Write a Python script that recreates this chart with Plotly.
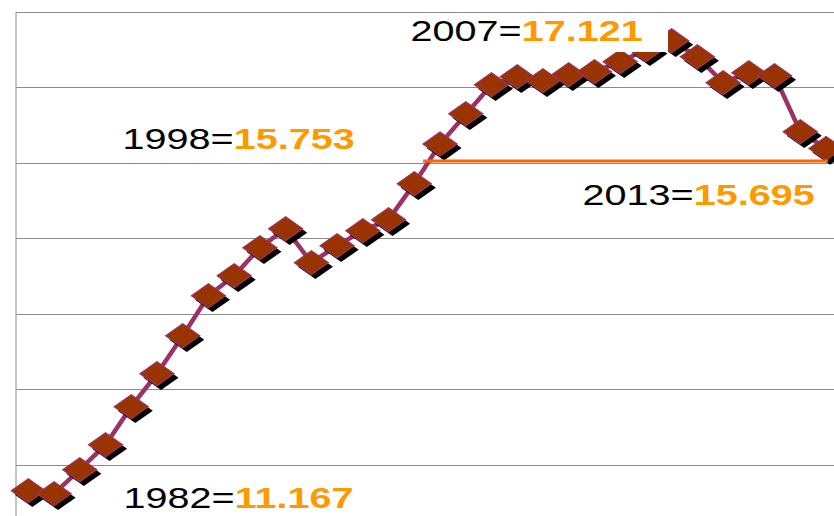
import plotly.graph_objects as go

# ---- data ----
years = [1982, 1983, 1984, 1985, 1986, 1987, 1988, 1989, 1990, 1991,
         1992, 1993, 1994, 1995, 1996, 1997, 1998, 1999, 2000, 2001,
         2002, 2003, 2004, 2005, 2006, 2007, 2008, 2009, 2010, 2011,
         2012, 2013]
values = [11.167, 11.128, 11.446, 11.776, 12.279, 12.716, 13.218, 13.747, 14.012, 14.382,
          14.634, 14.184, 14.409, 14.607, 14.753, 15.229, 15.753, 16.155, 16.538, 16.644,
          16.591, 16.671, 16.710, 16.843, 17.001, 17.121, 16.909, 16.565, 16.697, 16.657,
          15.917, 15.695]

label_years = ["2007", "1998", "2013", "1982"]
label_values = ["17.121", "15.753", "15.695", "11.167"]
reference_level = 15.53   # orange reference line level

# ---- styling / layout constants ----
TOP_MARGIN = 10
X_RANGE = [1981.52, 2013.31]
PX_PER_UNIT = 75.58
Y_RANGE = [10.833, 17.5 + (12 - TOP_MARGIN) / PX_PER_UNIT]
PX_PER_YEAR = 818 / (X_RANGE[1] - X_RANGE[0])
SHADOW_PX = 4
dx = SHADOW_PX / PX_PER_YEAR
dy = SHADOW_PX / PX_PER_UNIT

LINE_COLOR = "#993366"
MARKER_FILL = "#993300"
GRID = "#8c8c8c"
ORANGE_TXT = "#FF9900"
ORANGE_LINE = "#FF6600"
FONT = "Liberation Sans, Arial, sans-serif"
MSIZE = 18.5

fig = go.Figure()

# series line
fig.add_trace(go.Scatter(x=years, y=values, mode="lines",
                         line=dict(color=LINE_COLOR, width=4.5),
                         hoverinfo="skip", showlegend=False,
                         xaxis="x", yaxis="y"))
# marker shadows (offset axes)
fig.add_trace(go.Scatter(x=years, y=values, mode="markers",
                         marker=dict(symbol="diamond", size=MSIZE + 0.5, color="#000000",
                                     line=dict(width=0)),
                         cliponaxis=False, hoverinfo="skip", showlegend=False,
                         xaxis="x2", yaxis="y2"))
# markers
fig.add_trace(go.Scatter(x=years, y=values, mode="markers",
                         marker=dict(symbol="diamond", size=MSIZE, color=MARKER_FILL,
                                     line=dict(width=1, color=LINE_COLOR)),
                         cliponaxis=False, showlegend=False,
                         xaxis="x3", yaxis="y3"))

hidden = dict(visible=False, showgrid=False, zeroline=False)

fig.update_layout(
    width=834, height=516,
    margin=dict(l=16, r=0, t=TOP_MARGIN, b=0, pad=0),
    paper_bgcolor="white", plot_bgcolor="white",
    xaxis=dict(range=X_RANGE, showgrid=False, zeroline=False, showticklabels=False,
               showline=False, ticks=""),
    yaxis=dict(range=Y_RANGE, tick0=0.5, dtick=1, showgrid=True, gridcolor=GRID,
               gridwidth=1, showline=False, showticklabels=False, zeroline=False, ticks=""),
    xaxis2=dict(overlaying="x", range=[X_RANGE[0] - dx, X_RANGE[1] - dx], **hidden),
    yaxis2=dict(overlaying="y", range=[Y_RANGE[0] + dy, Y_RANGE[1] + dy], **hidden),
    xaxis3=dict(overlaying="x", range=X_RANGE, **hidden),
    yaxis3=dict(overlaying="y", range=Y_RANGE, **hidden),
)

# value axis line (starts at the top gridline)
fig.add_shape(type="line", xref="paper", yref="y", x0=0, x1=0, y0=Y_RANGE[0], y1=17.5,
              line=dict(color=GRID, width=1), layer="below")
# white box behind the 2007 label
fig.add_shape(type="rect", xref="x", yref="y", x0=1996.44, x1=2006.86, y0=16.972, y1=17.475,
              fillcolor="white", line=dict(width=0), layer="above")
# orange reference line
fig.add_shape(type="line", xref="x", yref="y", x0=1997.34, x1=2013.08,
              y0=reference_level, y1=reference_level,
              line=dict(color=ORANGE_LINE, width=3), layer="above")

label_pos = [(1996.755, 17.243), (1985.56, 15.814), (2003.44, 15.073), (1985.60, 11.075)]
for (lx, ly), yr, val in zip(label_pos, label_years, label_values):
    fig.add_annotation(x=lx, y=ly, xref="x", yref="y", xanchor="left", yanchor="middle",
                       showarrow=False,
                       text=f"{yr}=<span style='color:{ORANGE_TXT}'><b>{val}</b></span>",
                       font=dict(family=FONT, size=29, color="#000000"))

post = """
document.documentElement.style.margin = '0';
document.documentElement.style.padding = '0';
document.body.style.margin = '0';
document.body.style.padding = '0';
document.body.style.overflow = 'hidden';
var gd = document.getElementById('{plot_id}');
gd.querySelectorAll('path.point').forEach(function(p){
  var t = p.getAttribute('transform') || '';
  p.setAttribute('transform', t + ' scale(1.42,1)');
});
gd.querySelectorAll('g.annotation-text-g').forEach(function(g){
  var b = g.getBBox();
  var L = b.x;
  g.setAttribute('transform', 'translate(' + L + ',0) scale(1.365,1) translate(' + (-L) + ',0)');
});
"""

fig.write_html("out.html", post_script=post, config={"responsive": False, "displayModeBar": False})
